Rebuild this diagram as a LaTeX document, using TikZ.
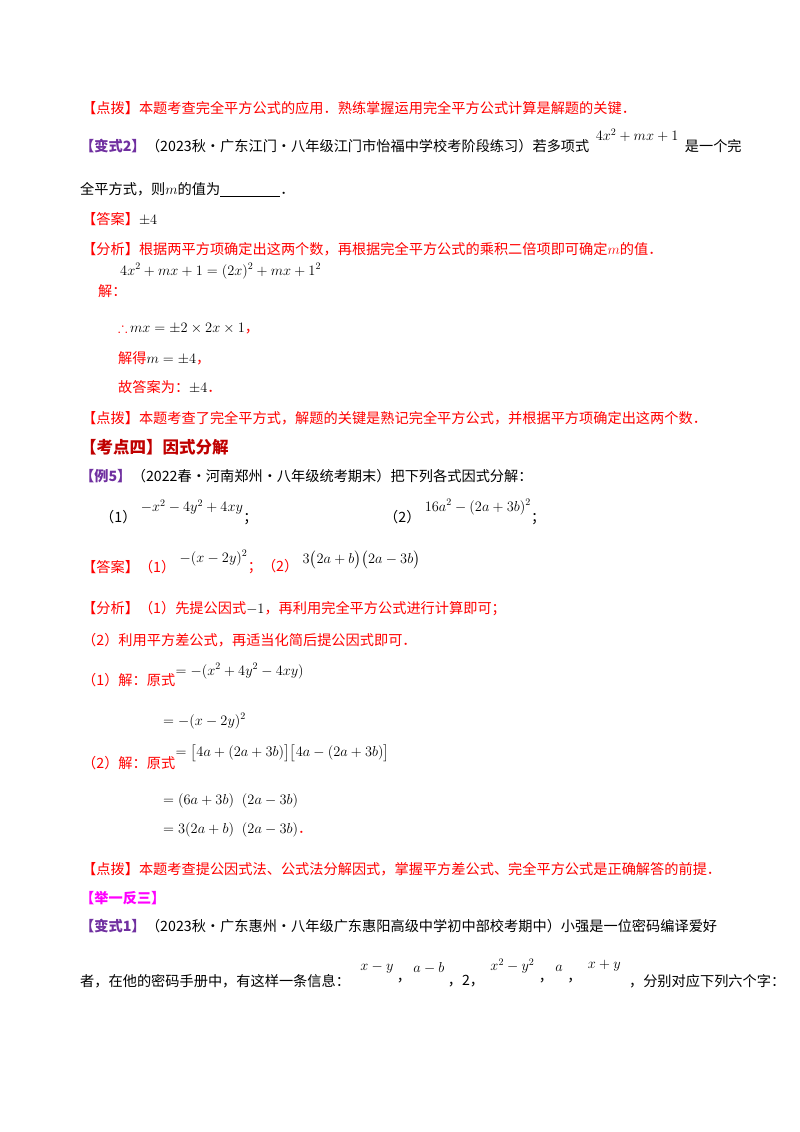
\documentclass[tikz,border=0pt]{standalone}
\usepackage{amsmath,amssymb}
\usepackage{fontspec}
\setmainfont{Noto Sans CJK SC}
\definecolor{rd}{RGB}{255,0,0}
\definecolor{pu}{RGB}{112,48,160}
\definecolor{mg}{RGB}{255,0,255}
\definecolor{dr}{RGB}{192,0,0}
\begin{document}
\begin{tikzpicture}[x=1pt,y=-1pt,
  t/.style={anchor=west,inner sep=0pt,font=\fontsize{14.2}{16}\selectfont},
  r/.style={t,text=rd},
  k/.style={t,text=black},
  m/.style={t,text=black,font=\fontsize{14}{16}\selectfont}]
\useasboundingbox (0,0) rectangle (800,1132);
\node[r] (a1) at (82,108) {【点拨】本题考查完全平方公式的应用．熟练掌握运用完全平方公式计算是解题的关键．};
\node[t,text=pu] (b1) at (80,146) {\bfseries【变式2】};
\node[k] (b2) at (b1.east) [anchor=west] {（2023秋·广东江门·八年级江门市怡福中学校考阶段练习）若多项式};
\node[m] (b3) at ([xshift=6pt,yshift=11pt]b2.east) {$4x^2+mx+1$};
\node[k] (b4) at ([xshift=6pt,yshift=-11pt]b3.east) {是一个完};
\node[k] (c1) at (80,190) {全平方式，则$m$的值为\underline{\hspace{60pt}}．};
\node[t] (d1) at (82,219) {\textcolor{rd}{【答案】}$\pm4$};
\node[r] (e1) at (82,249) {【分析】根据两平方项确定出这两个数，再根据完全平方公式的乘积二倍项即可确定$m$的值．};
\node[m] (f1) at (120,271) {$4x^2+mx+1=(2x)^2+mx+1^2$};
\node[r] (f2) at (98,291) {解：};
\node[t] (g1) at (118,328) {\textcolor{rd}{$\therefore$}$\,mx=\pm2\times2x\times1$\textcolor{rd}{，}};
\node[t] (g2) at (118,358) {\textcolor{rd}{解得}$m=\pm4$\textcolor{rd}{，}};
\node[t] (g3) at (118,387) {\textcolor{rd}{故答案为：}$\pm4$\textcolor{rd}{．}};
\node[r] (h1) at (82,418) {【点拨】本题考查了完全平方式，解题的关键是熟记完全平方公式，并根据平方项确定出这两个数．};
\node[t,text=dr,font=\fontsize{16.5}{18}\selectfont\bfseries] (h2) at (80,447) {【考点四】因式分解};
\node[t,text=pu] (i1) at (80,476) {\bfseries【例5】};
\node[k] (i2) at (i1.east) [anchor=west] {（2022春·河南郑州·八年级统考期末）把下列各式因式分解：};
\node[k] (j1) at (100,517) {（1）};
\node[m] (j2) at ([xshift=4pt,yshift=10pt]j1.east) {$-x^2-4y^2+4xy$};
\node[k] (j3) at ([yshift=-12pt]j2.east) {；};
\node[k] (j4) at (384,517) {（2）};
\node[m] (j5) at ([xshift=4pt,yshift=10pt]j4.east) {$16a^2-(2a+3b)^2$};
\node[k] (j6) at ([yshift=-12pt]j5.east) {；};
\node[r] (k1) at (82,567) {【答案】（1）};
\node[m] (k2) at ([xshift=4pt,yshift=9pt]k1.east) {$-(x-2y)^2$};
\node[r] (k3) at ([yshift=-9pt]k2.east) {；（2）};
\node[m] (k4) at ([xshift=4pt,yshift=7pt]k3.east) {\fontsize{15}{17}\selectfont$3\bigl(2a+b\bigr)\bigl(2a-3b\bigr)$};
\node[t] (l1) at (82,609) {\textcolor{rd}{【分析】（1）先提公因式}$-1$\textcolor{rd}{，再利用完全平方公式进行计算即可；}};
\node[r] (l2) at (82,640) {（2）利用平方差公式，再适当化简后提公因式即可．};
\node[r] (m1) at (82,680) {（1）解：原式};
\node[m] (m2) at ([yshift=9pt]m1.east) {$=-(x^2+4y^2-4xy)$};
\node[m] (m3) at (163,721) {$=-(x-2y)^2$};
\node[r] (n1) at (82,763) {（2）解：原式};
\node[m] (n2) at ([yshift=10pt]n1.east) {$=\bigl[4a+(2a+3b)\bigr]\bigl[4a-(2a+3b)\bigr]$};
\node[m] (n3) at (163,801) {$=(6a+3b)\;\;(2a-3b)$};
\node[t] (n4) at (163,830) {\fontsize{14}{16}\selectfont$=3(2a+b)\;\;(2a-3b)$\textcolor{rd}{．}};
\node[r] (o1) at (82,869) {【点拨】本题考查提公因式法、公式法分解因式，掌握平方差公式、完全平方公式是正确解答的前提．};
\node[t,text=mg] (o2) at (80,898) {\bfseries【举一反三】};
\node[t,text=pu] (p1) at (80,926) {\bfseries【变式1】};
\node[k] (p2) at (p1.east) [anchor=west] {（2023秋·广东惠州·八年级广东惠阳高级中学初中部校考期中）小强是一位密码编译爱好};
\node[k] (q1) at (80,981) {者，在他的密码手册中，有这样一条信息：};
\node[m] (q2) at ([xshift=10pt,yshift=13pt]q1.east) {$x-y$};
\node[k] (q3) at ([xshift=3pt,yshift=-13pt]q2.east) {，};
\node[m] (q4) at ([xshift=2pt,yshift=13pt]q3.east) {$a-b$};
\node[k] (q5) at ([xshift=3pt,yshift=-13pt]q4.east) {，2，};
\node[m] (q6) at ([xshift=6pt,yshift=15pt]q5.east) {$x^2-y^2$};
\node[k] (q7) at ([xshift=4pt,yshift=-15pt]q6.east) {，};
\node[m] (q8) at ([xshift=2pt,yshift=13pt]q7.east) {$a$};
\node[k] (q9) at ([xshift=4pt,yshift=-13pt]q8.east) {，};
\node[m] (q10) at ([xshift=6pt,yshift=15pt]q9.east) {$x+y$};
\node[k] (q11) at ([xshift=8pt,yshift=-15pt]q10.east) {，分别对应下列六个字：};
\end{tikzpicture}
\end{document}
